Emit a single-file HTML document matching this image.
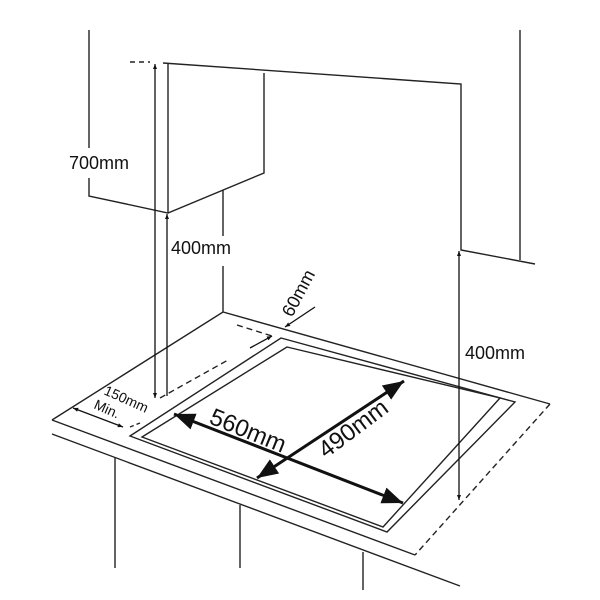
<!DOCTYPE html>
<html><head><style>body{margin:0;background:#fff}svg{display:block}text{font-family:"Liberation Sans",sans-serif;fill:#111}</style></head>
<body>
<svg width="600" height="600" viewBox="0 0 600 600" xmlns="http://www.w3.org/2000/svg">
<defs>
<marker id="a" viewBox="0 0 10 10" refX="10" refY="5" markerWidth="7" markerHeight="7" orient="auto-start-reverse"><path d="M0,1 L10,5 L0,9 z" fill="#111"/></marker>
<marker id="b" viewBox="0 0 10 10" refX="10" refY="5" markerWidth="4" markerHeight="4" orient="auto-start-reverse"><path d="M0,1 L10,5 L0,9 z" fill="#111"/></marker>
</defs>
<g stroke="#222" stroke-width="1.4" fill="none">
<path d="M89,30 V148 M89,178 V196 L168,213 L264,173 V73"/>
<path d="M168,63 V213"/>
<path d="M163,63 L461,84 V250 L535,264"/>
<path d="M520,30 V260"/>
<path d="M223,190 V236 M223,266 V312"/>
<path d="M130,62 H150" stroke-dasharray="5,4"/>
<path d="M52,420 L223,312 L550,404"/>
<path d="M52,420 L415,555"/>
<path d="M52,434 L460,586"/>
<path d="M550,404 L415,555" stroke-dasharray="6,4"/>
<path d="M115,458 V568 M240,505 V568 M363,552 V590"/>
<path d="M281,338 L515,402 L387,532 L130,436 Z"/>
<path d="M287,347 L500,398 L383,527 L142,437 Z"/>
<path d="M160,398 L228,360" stroke-dasharray="6,4"/>
<path d="M237,325 L272,336" stroke-dasharray="6,4"/>
<path d="M130,427 L140,423" stroke-dasharray="4,3"/>
</g>
<g stroke="#111" stroke-width="1.3" fill="none">
<path d="M155,64 V398" marker-start="url(#b)" marker-end="url(#b)"/>
<path d="M167,214 V396" marker-start="url(#b)"/>
<path d="M459,251 V500" marker-start="url(#b)" marker-end="url(#b)"/>
<path d="M250,348 L272,336" marker-end="url(#b)"/>
<path d="M315,307 L285,327" marker-end="url(#b)"/>
<path d="M73,408 L123,427" marker-start="url(#b)" marker-end="url(#b)"/>
</g>
<g stroke="#111" stroke-width="3" fill="none">
<path d="M174,414 L403,503" marker-start="url(#a)" marker-end="url(#a)"/>
<path d="M257,478 L404,381" marker-start="url(#a)" marker-end="url(#a)"/>
</g>
<rect x="60" y="150" width="90" height="26" fill="#fff"/>
<text x="69" y="169" font-size="18">700mm</text>
<rect x="170" y="236" width="75" height="28" fill="#fff"/>
<text x="171" y="254" font-size="18">400mm</text>
<text x="465" y="359" font-size="18">400mm</text>
<text font-size="18" transform="translate(292,318) rotate(-62)">60mm</text>
<text font-size="14" transform="translate(103,394) rotate(24)">150mm</text>
<text font-size="14" transform="translate(93,408) rotate(24)">Min.</text>
<text font-size="24" transform="translate(208,423) rotate(22)">560mm</text>
<text font-size="24" transform="translate(326,459) rotate(-37)">490mm</text>
</svg>
</body></html>
